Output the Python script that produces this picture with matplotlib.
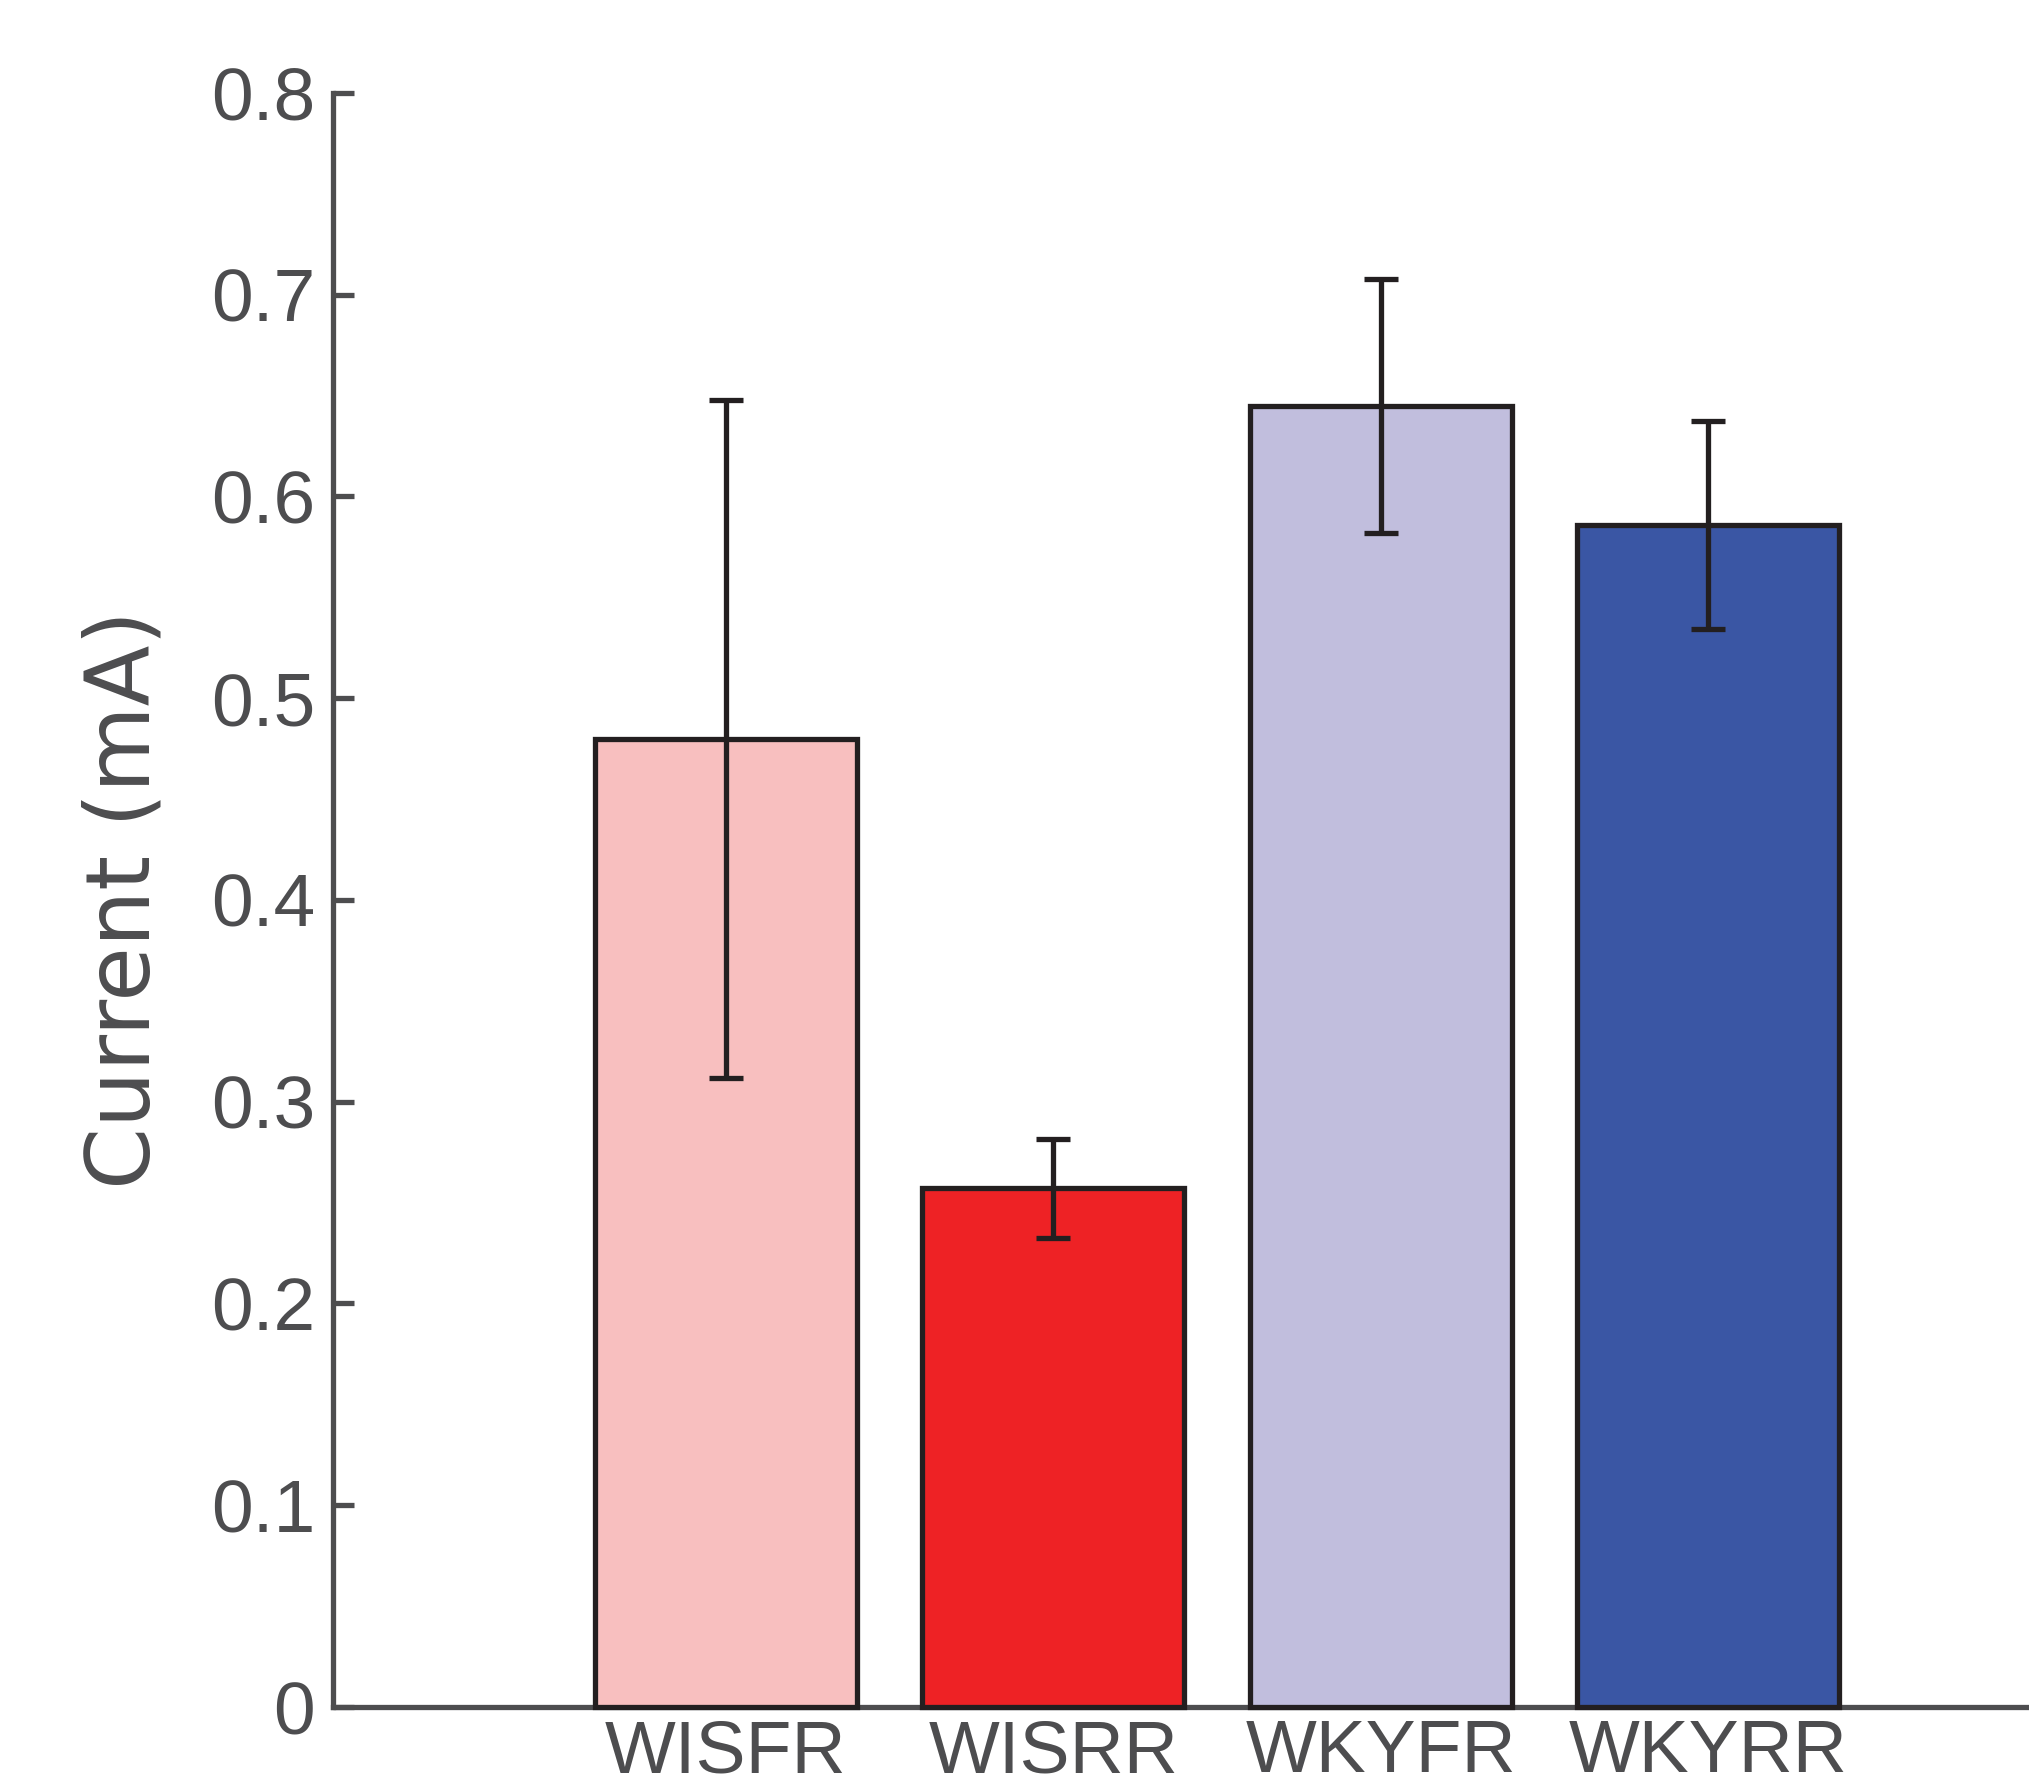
import matplotlib
matplotlib.use('Agg')
import matplotlib.pyplot as plt

# data
groups = ['WISFR', 'WISRR', 'WKYFR', 'WKYRR']
current = [0.48, 0.257, 0.645, 0.586]
current_err = [0.168, 0.0245, 0.063, 0.0515]
bar_colors = ['#F8BFBF', '#EE2225', '#C1BEDD', '#3A56A4']
yticks = [0, 0.1, 0.2, 0.3, 0.4, 0.5, 0.6, 0.7, 0.8]
ytick_labels = ['0', '0.1', '0.2', '0.3', '0.4', '0.5', '0.6', '0.7', '0.8']

grey = '#4D4D4F'
dark = '#231F20'
sans = ['Liberation Sans', 'DejaVu Sans']

fig = plt.figure(figsize=(20.29, 17.92), dpi=100)
ax = fig.add_axes([0.1641, 0.04743, 0.8713, 0.9007])

x = list(range(1, len(groups) + 1))
bars = ax.bar(x, current, width=0.8, color=bar_colors, edgecolor=dark,
              linewidth=3.8, zorder=3)
for b in bars:
    b.set_clip_on(False)
ax.errorbar(x, current, yerr=current_err, fmt='none', ecolor=dark,
            elinewidth=3.8, capsize=12, capthick=3.8, zorder=4)

ax.set_xlim(-0.2, 5.2)
ax.set_ylim(0, 0.8)

ax.spines['top'].set_visible(False)
ax.spines['right'].set_visible(False)
for s in ['left', 'bottom']:
    ax.spines[s].set_color(grey)
    ax.spines[s].set_linewidth(3.8)

ax.set_yticks(yticks)
ax.set_yticklabels(ytick_labels, family=sans, fontsize=54, color=grey)
ax.tick_params(axis='y', direction='in', length=15, width=3.8, color=grey, pad=13)

ax.set_xticks(x)
ax.set_xticklabels(groups, family=sans, fontsize=54, color=grey)
ax.tick_params(axis='x', length=0, pad=8)

ax.set_ylabel('Current (mA)', family=['DejaVu Sans'], fontsize=64, color=grey)
ax.yaxis.set_label_coords(-0.0933, 0.5)

fig.savefig('out.png', dpi=100)
